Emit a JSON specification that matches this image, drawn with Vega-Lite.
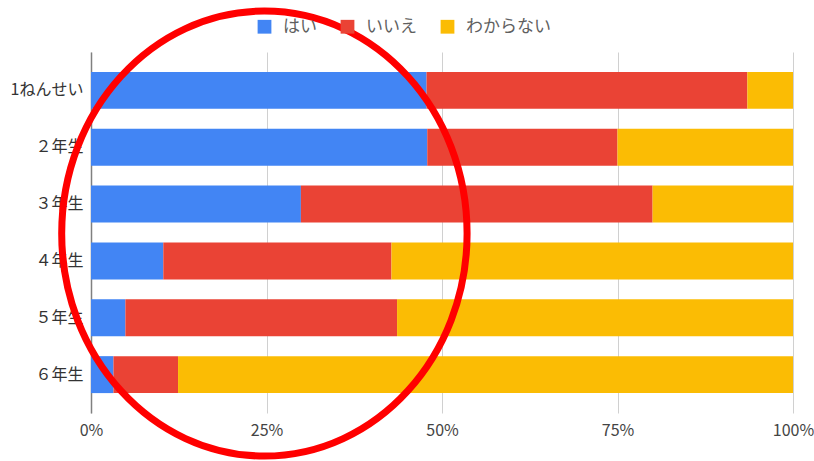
{
  "$schema": "https://vega.github.io/schema/vega-lite/v6.json",
  "autosize": {"type": "none"},
  "width": 702,
  "height": 361,
  "padding": {"left": 91, "top": 52, "right": 21, "bottom": 48},
  "background": "white",
  "config": {
    "view": {"stroke": null},
    "font": "Noto Sans CJK JP"
  },
  "layer": [
    {
      "data": {
        "values": [
          {"grade": "1ねんせい", "answer": "はい", "ord": 1, "pct": 47.8},
          {"grade": "1ねんせい", "answer": "いいえ", "ord": 2, "pct": 45.7},
          {"grade": "1ねんせい", "answer": "わからない", "ord": 3, "pct": 6.5},
          {"grade": "２年生", "answer": "はい", "ord": 1, "pct": 47.9},
          {"grade": "２年生", "answer": "いいえ", "ord": 2, "pct": 27.1},
          {"grade": "２年生", "answer": "わからない", "ord": 3, "pct": 25.0},
          {"grade": "３年生", "answer": "はい", "ord": 1, "pct": 29.9},
          {"grade": "３年生", "answer": "いいえ", "ord": 2, "pct": 50.1},
          {"grade": "３年生", "answer": "わからない", "ord": 3, "pct": 20.0},
          {"grade": "４年生", "answer": "はい", "ord": 1, "pct": 10.3},
          {"grade": "４年生", "answer": "いいえ", "ord": 2, "pct": 32.5},
          {"grade": "４年生", "answer": "わからない", "ord": 3, "pct": 57.2},
          {"grade": "５年生", "answer": "はい", "ord": 1, "pct": 4.9},
          {"grade": "５年生", "answer": "いいえ", "ord": 2, "pct": 38.7},
          {"grade": "５年生", "answer": "わからない", "ord": 3, "pct": 56.4},
          {"grade": "６年生", "answer": "はい", "ord": 1, "pct": 3.2},
          {"grade": "６年生", "answer": "いいえ", "ord": 2, "pct": 9.2},
          {"grade": "６年生", "answer": "わからない", "ord": 3, "pct": 87.6}
        ]
      },
      "mark": {"type": "bar"},
      "encoding": {
        "y": {
          "field": "grade",
          "type": "nominal",
          "scale": {"domain": ["1ねんせい", "２年生", "３年生", "４年生", "５年生", "６年生"], "paddingInner": 0.35, "paddingOuter": 0.35},
          "axis": {
            "title": null,
            "ticks": false,
            "tickSize": 0,
            "labelPadding": 8,
            "labelFontSize": 16,
            "labelColor": "#333333",
            "domainColor": "#808080",
            "domainWidth": 1.5,
            "grid": false
          }
        },
        "x": {
          "field": "pct",
          "type": "quantitative",
          "stack": "normalize",
          "scale": {"domain": [0, 1], "nice": false},
          "axis": {
            "title": null,
            "format": ".0%",
            "values": [0, 0.25, 0.5, 0.75, 1],
            "domain": false,
            "ticks": false,
            "tickSize": 0,
            "labelFlush": false,
            "labelPadding": 9,
            "labelFontSize": 16,
            "labelColor": "#444444",
            "gridColor": "#d0d0d0",
            "gridWidth": 1
          }
        },
        "color": {
          "field": "answer",
          "type": "nominal",
          "scale": {"domain": ["はい", "いいえ", "わからない"], "range": ["#4285F4", "#EA4335", "#FBBC04"]},
          "legend": {
            "title": null,
            "orient": "none",
            "direction": "horizontal",
            "legendX": 165,
            "legendY": -34,
            "padding": 0,
            "symbolType": "square",
            "symbolSize": 190,
            "symbolStrokeWidth": 0,
            "symbolOpacity": 1,
            "labelFontSize": 17,
            "labelColor": "#5f5f5f",
            "labelOffset": 10,
            "columnPadding": 22
          }
        },
        "order": {"field": "ord", "type": "quantitative"}
      }
    },
    {
      "data": {"values": [{"grade": "４年生", "pos": 0.247, "note": "circle"}]},
      "mark": {
        "type": "point",
        "shape": "M 0.911 -0.123 C 0.911 0.429 0.503 0.877 0 0.877 C -0.503 0.877 -0.911 0.429 -0.911 -0.123 C -0.911 -0.675 -0.503 -1.123 0 -1.123 C 0.503 -1.123 0.911 -0.675 0.911 -0.123 Z",
        "size": 198025,
        "filled": false,
        "color": "#ff0000",
        "strokeWidth": 7,
        "opacity": 1
      },
      "encoding": {
        "y": {"field": "grade", "type": "nominal"},
        "x": {"field": "pos", "type": "quantitative"}
      }
    }
  ]
}
